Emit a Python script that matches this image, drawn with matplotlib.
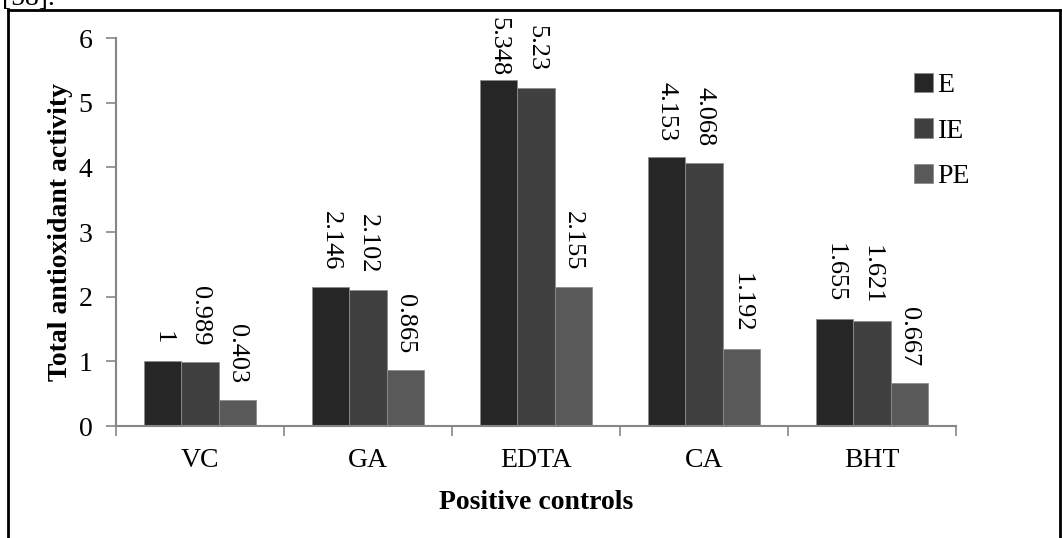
import matplotlib
matplotlib.use("Agg")
import matplotlib.pyplot as plt
import numpy as np
from matplotlib.lines import Line2D

categories = ["VC", "GA", "EDTA", "CA", "BHT"]
series_names = ["E", "IE", "PE"]
E_vals = [1, 2.146, 5.348, 4.153, 1.655]
IE_vals = [0.989, 2.102, 5.23, 4.068, 1.621]
PE_vals = [0.403, 0.865, 2.155, 1.192, 0.667]
E_labels = ["1", "2.146", "5.348", "4.153", "1.655"]
IE_labels = ["0.989", "2.102", "5.23", "4.068", "1.621"]
PE_labels = ["0.403", "0.865", "2.155", "1.192", "0.667"]
y_ticks = [0, 1, 2, 3, 4, 5, 6]

plt.rcParams['font.family'] = ['Liberation Serif', 'DejaVu Serif']
FS = 20
LFS = 19

W, H = 1062, 538
fig = plt.figure(figsize=(W / 100, H / 100), dpi=100)
ax = fig.add_axes([116 / W, 1 - 426 / H, (956 - 116) / W, (426 - 38) / H])

colors = ["#262626", "#404040", "#595959"]
x = np.arange(len(categories))
bw = 0.222
all_vals = [E_vals, IE_vals, PE_vals]
all_labels = [E_labels, IE_labels, PE_labels]
annots = []
for i, (vals, labs, name, c) in enumerate(zip(all_vals, all_labels, series_names, colors)):
    pos = x + (i - 1) * bw
    ax.bar(pos, vals, width=bw, color=c, edgecolor="#8c8c8c", linewidth=0.6, label=name, zorder=2)
    for px, v, lab in zip(pos, vals, labs):
        a = ax.annotate(lab, (px, v), xytext=(0, 12), textcoords="offset points",
                        rotation=-90, ha="center", va="bottom", fontsize=LFS, color="black",
                        annotation_clip=False)
        annots.append(a)

ax.set_xlim(-0.5, len(categories) - 0.5)
ax.set_ylim(0, 6)
ax.set_yticks(y_ticks)
ax.set_yticklabels([str(t) for t in y_ticks], fontsize=FS)
ax.set_xticks(x)
ax.set_xticklabels(categories, fontsize=FS)
ax.tick_params(axis="x", length=0, pad=16)
ax.set_xticks(np.arange(-0.5, len(categories)), minor=True)
ax.tick_params(axis="x", which="minor", length=7, width=1.2, color="#868686", direction="out")
ax.tick_params(axis="y", length=7, width=1.2, color="#868686", direction="out", pad=10)
for s in ["top", "right"]:
    ax.spines[s].set_visible(False)
for s in ["left", "bottom"]:
    ax.spines[s].set_color("#868686")
    ax.spines[s].set_linewidth(1.5)

ax.set_ylabel("Total antioxidant activity", fontsize=FS, fontweight="bold", labelpad=4)
ax.set_xlabel("Positive controls", fontsize=FS, fontweight="bold", labelpad=12)

leg = ax.legend(loc="upper left", bbox_to_anchor=(914 / W, 1 - 73 / H), bbox_transform=fig.transFigure,
                frameon=False, fontsize=FS, handlelength=0.7, handleheight=0.7, handletextpad=0.15,
                labelspacing=0.72, borderpad=0, borderaxespad=0)

# outer frame
fig.add_artist(Line2D([8 / W, 8 / W], [0, 1 - 10 / H], transform=fig.transFigure, color="black", lw=2))
fig.add_artist(Line2D([8 / W, 1060 / W], [1 - 10 / H, 1 - 10 / H], transform=fig.transFigure, color="black", lw=2))
fig.add_artist(Line2D([1060 / W, 1060 / W], [0, 1 - 10 / H], transform=fig.transFigure, color="black", lw=2))
fig.text(2 / W, 1 - 5 / H, "[58].", fontsize=FS, va="baseline", ha="left")

# keep data labels inside the chart frame (as the original chart software does)
fig.canvas.draw()
renderer = fig.canvas.get_renderer()
limit_px = H - 17
for a in annots:
    bb = a.get_window_extent(renderer)
    if bb.y1 > limit_px:
        shift_pt = (bb.y1 - limit_px) * 72 / fig.dpi
        ox, oy = a.xyann
        a.xyann = (ox, oy - shift_pt)

fig.savefig("out.png", dpi=100)
